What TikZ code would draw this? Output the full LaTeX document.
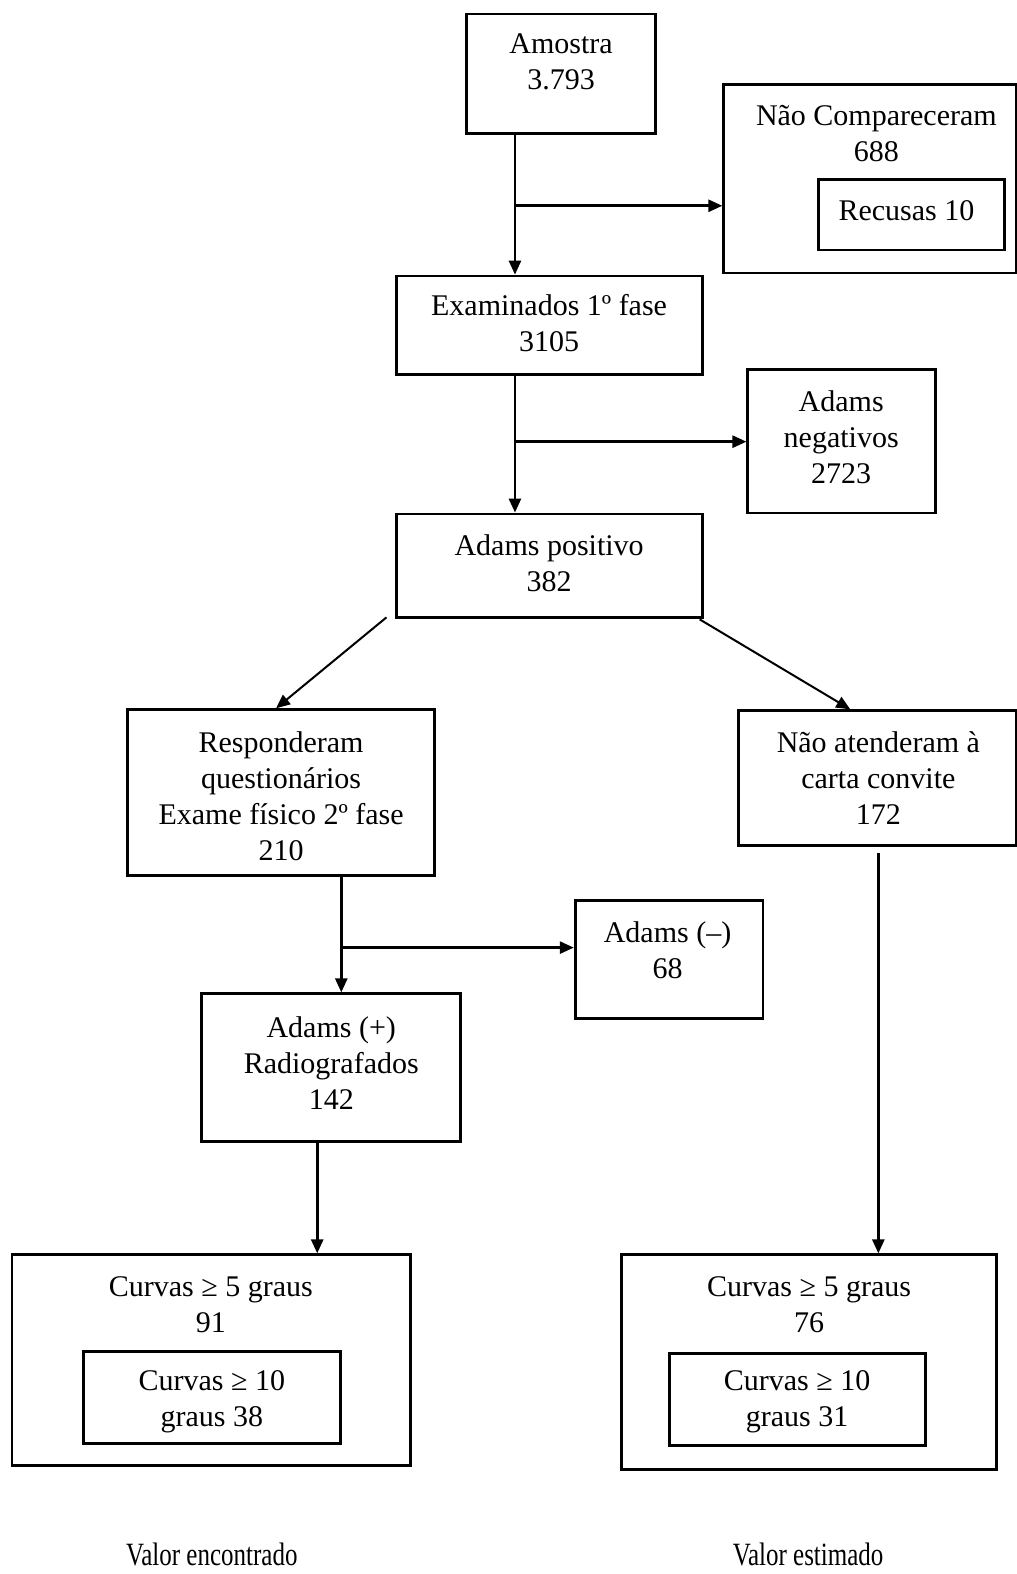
\documentclass[tikz,border=0pt]{standalone}
\usepackage{fontspec}
\setmainfont{Liberation Serif}
\usetikzlibrary{arrows.meta,fit}
\begin{document}
\begin{tikzpicture}[x=0.502pt,y=-0.502pt,
  box/.style={draw,line width=1.4pt,inner sep=0pt},
  txt/.style={align=center,font=\fontsize{15}{18}\selectfont,inner sep=0pt},
  arr/.style={line width=1.3pt,-{Triangle[length=7pt,width=6pt]}},
  darr/.style={line width=1pt,-{Triangle[length=7pt,width=6pt]}},
  lab/.style={font=\fontsize{12.5}{15}\selectfont,anchor=base,inner sep=0pt}]
\fill[white] (0,0) rectangle (1013,1568);
\useasboundingbox (0,0) rectangle (1013,1568);

% boxes
\node[box,fit={(465,14) (653,133)}] (amostra) {};
\node[txt] (amostraT) at (559,62) {Amostra\\3.793};

\node[box,fit={(721,84) (1013,272)}] (nao) {};
\node[txt] (naoT) at (873,133) {Não Compareceram\\688};
\node[box,fit={(815,179) (1001,249)}] (recusas) {};
\node[txt] (recusasT) at (903,210) {Recusas 10};

\node[box,fit={(395,275) (700,373)}] (exam) {};
\node[txt] (examT) at (547,322) {Examinados 1º fase\\3105};

\node[box,fit={(745,368) (932,511)}] (adneg) {};
\node[txt] (adnegT) at (838,436) {Adams\\negativos\\2723};

\node[box,fit={(395,512) (700,615)}] (adpos) {};
\node[txt] (adposT) at (547,561) {Adams positivo\\382};

\node[box,fit={(127,707) (433,872)}] (resp) {};
\node[txt] (respT) at (280,793) {Responderam\\questionários\\Exame físico 2º fase\\210};

\node[box,fit={(736,708) (1013,842)}] (naoat) {};
\node[txt] (naoatT) at (875,775) {Não atenderam à\\carta convite\\172};

\node[box,fit={(573,897) (760,1015)}] (adm) {};
\node[txt] (admT) at (665,947) {Adams (–)\\68};

\node[box,fit={(201,990) (459,1137)}] (adp) {};
\node[txt] (adpT) at (330,1059) {Adams (+)\\Radiografados\\142};

\node[box,fit={(12,1250) (409,1460)}] (curvL) {};
\node[txt] (curvLT) at (210,1300) {Curvas ≥ 5 graus\\91};
\node[box,fit={(83,1346) (339,1438)}] (curvLi) {};
\node[txt] (curvLiT) at (211,1396) {Curvas ≥ 10\\graus 38};

\node[box,fit={(619,1250) (993,1464)}] (curvR) {};
\node[txt] (curvRT) at (806,1300) {Curvas ≥ 5 graus\\76};
\node[box,fit={(667,1348) (922,1440)}] (curvRi) {};
\node[txt] (curvRiT) at (794,1396) {Curvas ≥ 10\\graus 31};

\node[lab] (encontrado) at (211,1560) {\scalebox{1}[1.3]{Valor encontrado}};
\node[lab] (estimado) at (805,1560) {\scalebox{1}[1.3]{Valor estimado}};

% connectors
\coordinate (j1) at (513,205);
\draw[arr] (j1 |- amostra.south) -- (j1 |- exam.north);
\draw[arr] (j1) -- (j1 -| nao.west);

\coordinate (j2) at (513,440);
\draw[arr] (j2 |- exam.south) -- (j2 |- adpos.north);
\draw[arr] (j2) -- (j2 -| adneg.west);

\coordinate (d1s) at (385,615);
\coordinate (d1e) at (275,707);
\draw[darr] (d1s) -- (d1e |- resp.north);
\coordinate (d2s) at (697,617);
\coordinate (d2e) at (847,708);
\draw[darr] (d2s) -- (d2e |- naoat.north);

\coordinate (j3) at (340,944);
\draw[arr] (j3 |- resp.south) -- (j3 |- adp.north);
\draw[arr] (j3) -- (j3 -| adm.west);

\coordinate (j4) at (316,1200);
\draw[arr] (j4 |- adp.south) -- (j4 |- curvL.north);

\coordinate (j5s) at (875,850);
\draw[arr] (j5s) -- (j5s |- curvR.north);
\end{tikzpicture}
\end{document}
